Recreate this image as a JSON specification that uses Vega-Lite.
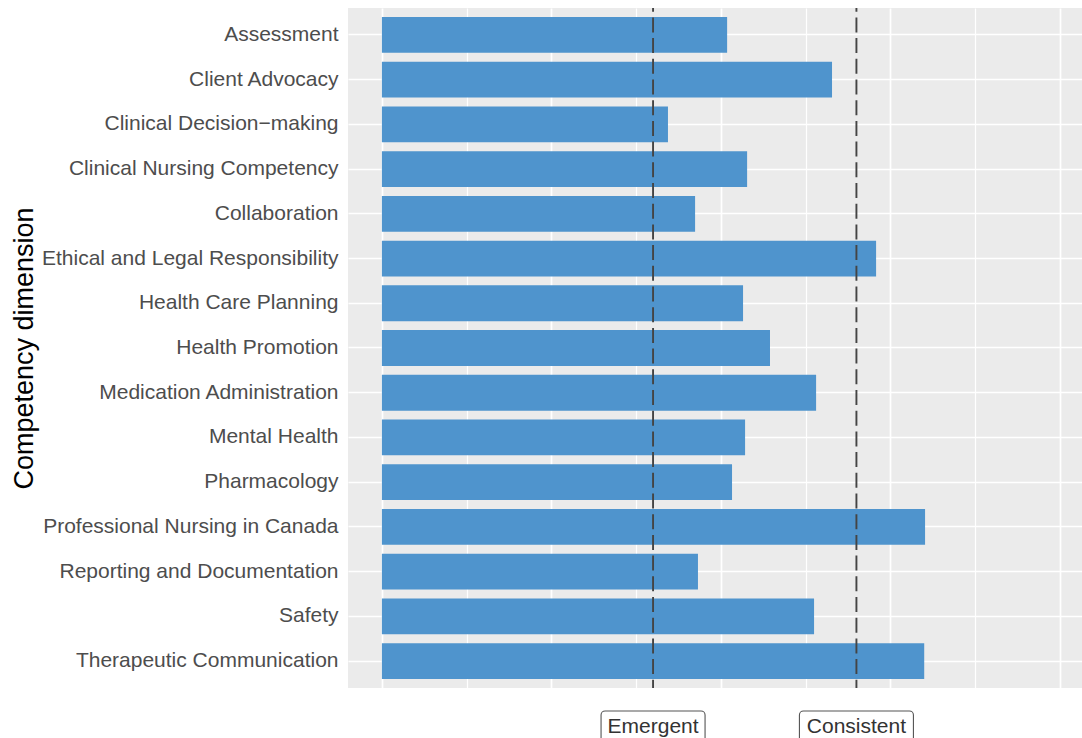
{
  "$schema": "https://vega.github.io/schema/vega-lite/v6.json",
  "width": 734,
  "height": 680,
  "autosize": {"type": "none"},
  "padding": {"left": 348, "top": 8, "right": 0, "bottom": 50},
  "background": "white",
  "config": {
    "font": "Liberation Sans",
    "view": {"fill": "#EBEBEB", "stroke": null}
  },
  "datasets": {
    "scores": [
      {"Dimension": "Assessment", "Score": 2.037},
      {"Dimension": "Client Advocacy", "Score": 2.656},
      {"Dimension": "Clinical Decision\u2212making", "Score": 1.688},
      {"Dimension": "Clinical Nursing Competency", "Score": 2.155},
      {"Dimension": "Collaboration", "Score": 1.848},
      {"Dimension": "Ethical and Legal Responsibility", "Score": 2.916},
      {"Dimension": "Health Care Planning", "Score": 2.131},
      {"Dimension": "Health Promotion", "Score": 2.29},
      {"Dimension": "Medication Administration", "Score": 2.562},
      {"Dimension": "Mental Health", "Score": 2.143},
      {"Dimension": "Pharmacology", "Score": 2.066},
      {"Dimension": "Professional Nursing in Canada", "Score": 3.205},
      {"Dimension": "Reporting and Documentation", "Score": 1.865},
      {"Dimension": "Safety", "Score": 2.55},
      {"Dimension": "Therapeutic Communication", "Score": 3.2}
    ],
    "thresholds": [
      {"Label": "Emergent", "Threshold": 1.6},
      {"Label": "Consistent", "Threshold": 2.8}
    ]
  },
  "layer": [
    {
      "data": {"name": "scores"},
      "mark": {"type": "bar", "color": "#4F94CD"},
      "encoding": {
        "y": {
          "field": "Dimension",
          "type": "nominal",
          "sort": null,
          "scale": {"paddingInner": 0.2, "paddingOuter": 0.2},
          "axis": {
            "title": "Competency dimension",
            "titleFontSize": 27,
            "titleFontWeight": "normal",
            "titleColor": "#000000",
            "titleAngle": -90,
            "titleX": -316,
            "titleY": 340,
            "titleAlign": "center",
            "titleBaseline": "alphabetic",
            "labelFontSize": 21,
            "labelColor": "#4D4D4D",
            "labelPadding": 10,
            "labelLimit": 0,
            "ticks": false,
            "domain": false,
            "grid": true,
            "gridColor": "#FFFFFF",
            "gridWidth": 1.7,
            "bandPosition": 0.5
          }
        },
        "x": {
          "field": "Score",
          "type": "quantitative",
          "title": null,
          "scale": {"domain": [-0.2, 4.131], "nice": false, "zero": false},
          "axis": {
            "values": [0, 0.5, 1, 1.5, 2, 2.5, 3, 3.5, 4],
            "labels": false,
            "ticks": false,
            "domain": false,
            "title": null,
            "grid": true,
            "gridColor": "#FFFFFF",
            "gridWidth": {"condition": {"test": "datum.value % 1 === 0", "value": 1.7}, "value": 1.2}
          }
        }
      }
    },
    {
      "data": {"name": "thresholds"},
      "mark": {"type": "rule", "color": "#444444", "strokeWidth": 1.9, "strokeDash": [15, 5.7], "strokeDashOffset": 11.3},
      "encoding": {
        "x": {"field": "Threshold", "type": "quantitative", "title": null}
      }
    },
    {
      "data": {"name": "thresholds"},
      "transform": [{"filter": "datum.Label === 'Emergent'"}],
      "mark": {"type": "rect", "width": 104, "y": {"expr": "height + 23"}, "y2": {"expr": "height + 62"}, "fill": "#FFFFFF", "stroke": "#555555", "strokeWidth": 1.1, "cornerRadius": 4},
      "encoding": {
        "x": {"field": "Threshold", "type": "quantitative", "title": null}
      }
    },
    {
      "data": {"name": "thresholds"},
      "transform": [{"filter": "datum.Label === 'Consistent'"}],
      "mark": {"type": "rect", "width": 114, "y": {"expr": "height + 23"}, "y2": {"expr": "height + 62"}, "fill": "#FFFFFF", "stroke": "#555555", "strokeWidth": 1.1, "cornerRadius": 4},
      "encoding": {
        "x": {"field": "Threshold", "type": "quantitative", "title": null}
      }
    },
    {
      "data": {"name": "thresholds"},
      "mark": {"type": "text", "y": {"expr": "height + 45"}, "baseline": "alphabetic", "align": "center", "fontSize": 21, "color": "#333333"},
      "encoding": {
        "x": {"field": "Threshold", "type": "quantitative", "title": null},
        "text": {"field": "Label", "type": "nominal"}
      }
    }
  ]
}
